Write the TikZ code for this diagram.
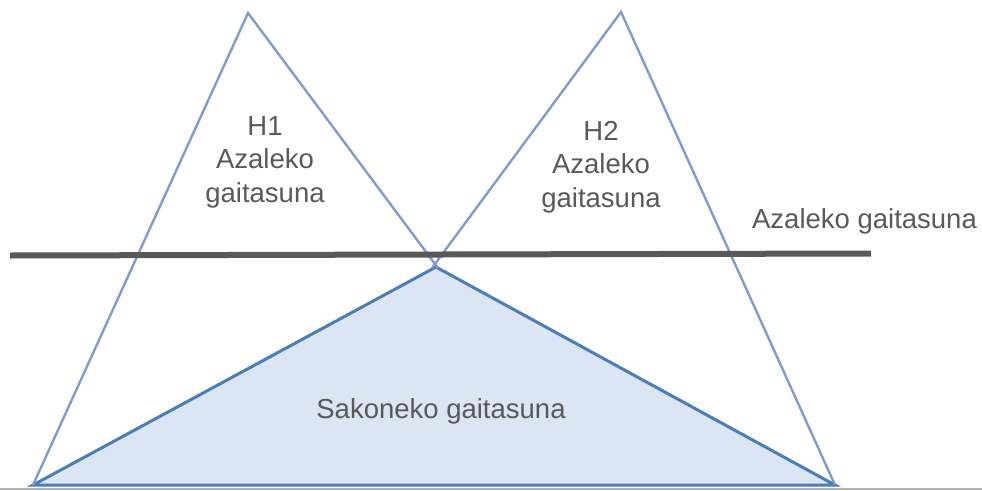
\documentclass[tikz,border=0pt]{standalone}
\usepackage{fontspec}
\setmainfont{Liberation Sans}
\definecolor{tri}{HTML}{7F9CCF}
\definecolor{deepedge}{HTML}{4A7EBB}
\definecolor{deepfill}{HTML}{DCE5F3}
\definecolor{bar}{HTML}{595959}
\definecolor{txt}{HTML}{595959}
\definecolor{rule}{HTML}{B4B4B4}
\tikzset{
  tall/.style={draw=tri, line width=2.4pt, line join=miter},
  deep/.style={draw=deepedge, fill=deepfill, line width=3pt, line join=miter},
  lbl/.style={text=txt, inner sep=0pt, align=center, font=\fontsize{27.5}{33.5}\selectfont},
}
\begin{document}
\begin{tikzpicture}[x=1pt,y=-1pt]
\useasboundingbox (0,0) rectangle (982,490);
% vertices
\coordinate (LA) at (248,13);
\coordinate (LB) at (33,485);
\coordinate (LE) at (438,268);
\coordinate (RA) at (621,12);
\coordinate (RB) at (835,485);
\coordinate (RE) at (432,268);
\coordinate (DA) at (436,267);
\coordinate (BL) at (10,255.5);
\coordinate (BR) at (871,253.5);
\coordinate (GL) at (0,489);
\coordinate (GR) at (982,489);
% deep triangle
\draw[deep] (LB) -- (DA) -- (RB) -- cycle;
% tall triangles
\draw[tall] (LE) -- (LA) -- (LB);
\draw[tall] (RE) -- (RA) -- (RB);
% bottom rule
\draw[rule, line width=1.5pt] (GL) -- (GR);
% horizontal bar
\draw[bar, line width=6pt] (BL) -- (BR);
% labels
\node[lbl, anchor=base] (h1) at (265,202) {H1\\Azaleko\\gaitasuna};
\node[lbl, anchor=base] (h2) at (601,207) {H2\\Azaleko\\gaitasuna};
\node[lbl, anchor=base] (az) at (864.5,228) {Azaleko gaitasuna};
\node[lbl, anchor=base] (sak) at (441,418) {Sakoneko gaitasuna};
\end{tikzpicture}
\end{document}
